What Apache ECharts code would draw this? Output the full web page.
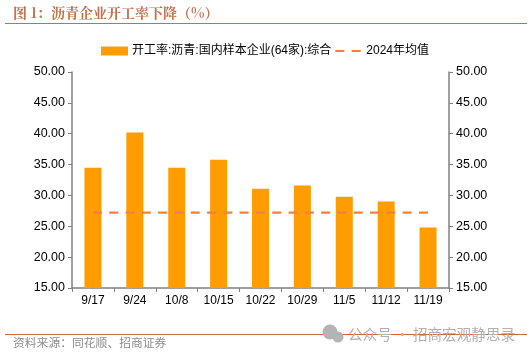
<!DOCTYPE html>
<html>
<head>
<meta charset="utf-8">
<style>
  html, body { margin: 0; padding: 0; background: #fff; }
  #chart { width: 532px; height: 356px; }
</style>
<script src="https://cdn.jsdelivr.net/npm/echarts@6/dist/echarts.min.js"></script>
</head>
<body>
<div id="chart"></div>
<script>
var dates = ['9/17', '9/24', '10/8', '10/15', '10/22', '10/29', '11/5', '11/12', '11/19'];
var rates = [34.5, 40.2, 34.5, 35.8, 31.1, 31.6, 29.8, 29.0, 24.8];
var avg2024 = [27.2, 27.2, 27.2, 27.2, 27.2, 27.2, 27.2, 27.2, 27.2];
var barName = '开工率:沥青:国内样本企业(64家):综合';
var lineName = '2024年均值';

var font = '"Liberation Sans", "Noto Sans CJK SC", sans-serif';
var axisColor = '#808080';

function valueAxis() {
  return {
    type: 'value',
    min: 15,
    max: 50,
    interval: 5,
    splitLine: { show: false },
    axisLine: { show: true, lineStyle: { color: axisColor, width: 1.5 } },
    axisTick: { show: true, length: 4, lineStyle: { color: axisColor } },
    axisLabel: {
      color: '#000',
      fontSize: 12.5,
      fontFamily: font,
      margin: 7,
      formatter: function(v) { return v.toFixed(2); }
    }
  };
}

var chart = echarts.init(document.getElementById('chart'));
chart.setOption({
  animation: false,
  backgroundColor: '#fff',
  title: {
    text: '图 1：沥青企业开工率下降（%）',
    left: 8,
    top: 1,
    textStyle: {
      color: '#c0724f',
      fontSize: 14,
      fontWeight: 'bold',
      fontFamily: '"Noto Serif CJK SC", "Noto Sans CJK SC", sans-serif'
    }
  },
  legend: {
    left: 96,
    top: 40,
    itemGap: 3,
    itemWidth: 27,
    itemHeight: 9,
    textStyle: { color: '#000', fontSize: 12, fontFamily: font, padding: [0, 0, 0, -1] },
    data: [
      { name: barName, icon: 'rect' },
      { name: lineName, icon: 'inherit', itemStyle: { opacity: 0 } }
    ]
  },
  grid: { left: 72, right: 83, top: 72, bottom: 68 },
  xAxis: {
    type: 'category',
    data: dates,
    axisLine: { lineStyle: { color: axisColor, width: 1.5 } },
    axisTick: { show: true, length: 4, alignWithLabel: false, lineStyle: { color: axisColor } },
    axisLabel: { color: '#000', fontSize: 12, fontFamily: font, margin: 7, interval: 0 }
  },
  yAxis: [valueAxis(), valueAxis()],
  series: [
    {
      name: barName,
      type: 'bar',
      data: rates,
      barWidth: 17,
      itemStyle: { color: '#ff9c00' }
    },
    {
      name: lineName,
      type: 'line',
      data: avg2024,
      symbol: 'none',
      lineStyle: { color: '#ee8240', width: 2.2, type: [9, 7.3] },
      itemStyle: { color: '#ee8240' }
    }
  ],
  graphic: [
    { type: 'rect', shape: { x: 5, y: 23, width: 522, height: 1 }, style: { fill: '#c0724f' } },
    { type: 'rect', shape: { x: 5, y: 334, width: 522, height: 1 }, style: { fill: '#c8674a' } },
    {
      type: 'text', left: 13, top: 337,
      style: { text: '资料来源：同花顺、招商证券', fill: '#8c8c8c', fontSize: 11.8, fontFamily: '"Noto Sans CJK SC", sans-serif' }
    },
    { type: 'circle', shape: { cx: 330, cy: 332, r: 7.5 }, style: { fill: '#b4b4b4' } },
    { type: 'circle', shape: { cx: 338, cy: 337, r: 5.5 }, style: { fill: '#b4b4b4' } },
    {
      type: 'text', left: 348, top: 327,
      style: { text: '公众号 · 招商宏观静思录', fill: '#b0b0b0', fontSize: 14.6, fontFamily: '"Noto Sans CJK SC", sans-serif' }
    }
  ]
});
</script>
</body>
</html>
